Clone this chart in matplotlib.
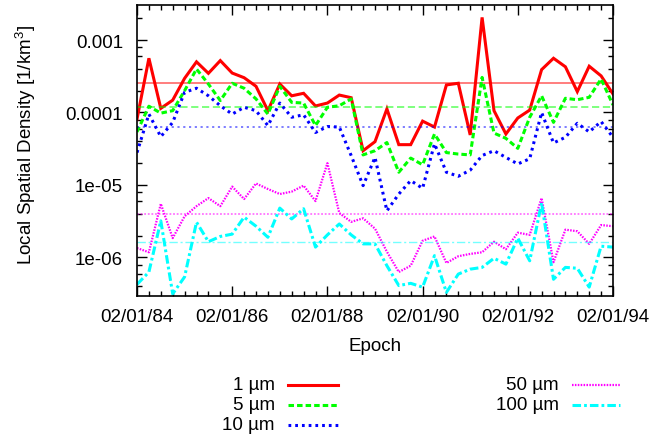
import matplotlib
matplotlib.use("Agg")
import matplotlib.pyplot as plt
from matplotlib.lines import Line2D
from matplotlib.ticker import LogLocator, FixedLocator, MultipleLocator, NullFormatter
import numpy as np

plt.rcParams['font.family'] = ['Liberation Sans', 'DejaVu Sans']
plt.rcParams['mathtext.fontset'] = 'custom'
plt.rcParams['mathtext.rm'] = 'Liberation Sans'
plt.rcParams['mathtext.it'] = 'Liberation Sans'

# ---- data (quarterly epochs, 1984.0 .. 1994.0) ----
epoch_start = 1984.0
epoch_step = 0.25
d1 = [8.1e-5, 5.6e-4, 1.14e-4, 1.48e-4, 2.96e-4, 5.0e-4, 3.47e-4, 5.2e-4, 3.5e-4, 3.02e-4,
      2.3e-4, 1.06e-4, 2.47e-4, 1.7e-4, 1.84e-4, 1.23e-4, 1.35e-4, 1.74e-4, 1.6e-4, 2.97e-5,
      3.96e-5, 1.12e-4, 3.6e-5, 3.6e-5, 7.6e-5, 6.3e-5, 2.4e-4, 2.53e-4, 4.9e-5, 2.05e-3,
      1.06e-4, 5.05e-5, 8.4e-5, 1.08e-4, 3.9e-4, 5.6e-4, 4.27e-4, 1.94e-4, 4.35e-4, 3.2e-4,
      1.8e-4]
d5 = [5.4e-5, 1.22e-4, 9.8e-5, 1.06e-4, 2.0e-4, 3.98e-4, 2.47e-4, 1.46e-4, 2.53e-4, 2.16e-4,
      1.54e-4, 9.5e-5, 2.3e-4, 1.38e-4, 1.35e-4, 6.6e-5, 1.18e-4, 1.24e-4, 1.54e-4, 2.6e-5,
      2.97e-5, 3.85e-5, 1.5e-5, 2.35e-5, 1.9e-5, 5.05e-5, 2.8e-5, 2.67e-5, 2.6e-5, 3.05e-4,
      5.2e-5, 4.4e-5, 3.2e-5, 8.6e-5, 1.7e-4, 7.3e-5, 1.57e-4, 1.5e-4, 1.62e-4, 2.9e-4,
      1.27e-4]
d10 = [2.8e-5, 9.5e-5, 4.64e-5, 7.3e-5, 1.9e-4, 2.16e-4, 1.7e-4, 1.24e-4, 9.5e-5, 1.18e-4,
       1.06e-4, 6.6e-5, 1.35e-4, 8.6e-5, 9.3e-5, 5.3e-5, 6.4e-5, 6.3e-5, 2.54e-5, 9.8e-6,
       2.4e-5, 4.4e-6, 7.5e-6, 1.15e-5, 9.0e-6, 3.7e-5, 1.5e-5, 1.32e-5, 1.6e-5, 2.55e-5,
       2.97e-5, 2.4e-5, 1.95e-5, 2.3e-5, 1.0e-4, 3.8e-5, 4.55e-5, 7.1e-5, 5.4e-5, 7.5e-5,
       4.55e-5]
d50 = [1.35e-6, 1.18e-6, 5.5e-6, 1.85e-6, 3.7e-6, 5.1e-6, 6.6e-6, 5.1e-6, 9.5e-6, 6.4e-6,
       1.05e-5, 8.8e-6, 7.5e-6, 8.1e-6, 9.8e-6, 6.0e-6, 2.0e-5, 4.1e-6, 3.1e-6, 3.47e-6,
       2.5e-6, 1.2e-6, 6.3e-7, 7.7e-7, 1.7e-6, 1.95e-6, 8.4e-7, 1.04e-6, 1.12e-6, 1.18e-6,
       1.65e-6, 1.3e-6, 2.2e-6, 2.05e-6, 6.6e-6, 8.6e-7, 2.42e-6, 2.3e-6, 1.54e-6, 2.8e-6,
       2.7e-6]
d100 = [4.25e-7, 6.3e-7, 3.2e-6, 3.15e-7, 5.4e-7, 3.07e-6, 1.65e-6, 1.95e-6, 2.1e-6, 3.6e-6,
        2.7e-6, 1.9e-6, 4.8e-6, 3.4e-6, 4.7e-6, 1.39e-6, 2.05e-6, 2.9e-6, 2.05e-6, 1.54e-6,
        1.54e-6, 7.7e-7, 4.1e-7, 4.4e-7, 3.9e-7, 1.06e-6, 3.3e-7, 5.9e-7, 6.9e-7, 7.3e-7,
        9.75e-7, 8.1e-7, 1.85e-6, 9.0e-7, 5.65e-6, 5.0e-7, 7.3e-7, 7.1e-7, 3.9e-7, 1.43e-6,
        1.39e-6]
means = [2.53e-4, 1.2e-4, 6.37e-5, 4.02e-6, 1.62e-6]
labels = ['1 µm', '5 µm', '10 µm', '50 µm', '100 µm']
tick_years = [1984, 1986, 1988, 1990, 1992, 1994]
tick_labels = ['02/01/84', '02/01/86', '02/01/88', '02/01/90', '02/01/92', '02/01/94']

series = [d1, d5, d10, d50, d100]
colors = ['#ff0000', '#00ff00', '#0000ff', '#ff00ff', '#00ffff']
styles = [
    dict(lw=2.2, ls='-'),
    dict(lw=2.2, ls=(0, (1.8, 1.0))),
    dict(lw=2.2, ls=(0, (0.9, 1.3))),
    dict(lw=1.6, ls=(0, (0.7, 0.6))),
    dict(lw=2.2, ls=(0, (2.8, 1.0, 0.9, 1.0))),
]
mean_styles = [
    dict(lw=1.3, ls='-'),
    dict(lw=1.3, ls=(0, (4, 2))),
    dict(lw=1.3, ls=(0, (1.2, 2))),
    dict(lw=1.3, ls=(0, (1, 1))),
    dict(lw=1.0, ls=(0, (6, 2, 1.5, 2))),
]

FS = 13.5
W, H = 652, 435
fig = plt.figure(figsize=(W / 100, H / 100), dpi=100)
L, R, T, B = 137, 613, 6, 296.7
ax = fig.add_axes([L / W, 1 - B / H, (R - L) / W, (B - T) / H])

x = epoch_start + epoch_step * np.arange(len(d1))
for s, c, st, m, mst in zip(series, colors, styles, means, mean_styles):
    ax.plot(x, s, color=c, solid_joinstyle='miter', **st)
    ax.plot([x[0], x[-1]], [m, m], color=c, alpha=0.55, **mst)

ax.set_yscale('log')
ax.set_xlim(1984, 1994)
ax.set_ylim(2.97e-7, 3.04e-3)
ax.xaxis.set_major_locator(FixedLocator(tick_years))
ax.set_xticklabels(tick_labels)
ax.xaxis.set_minor_locator(MultipleLocator(0.25))
ax.yaxis.set_minor_locator(LogLocator(base=10, subs=(2, 4, 6, 8), numticks=20))
ax.yaxis.set_minor_formatter(NullFormatter())
ax.set_yticks([1e-6, 1e-5, 1e-4, 1e-3])
ax.set_yticklabels(['1e-06', '1e-05', '0.0001', '0.001'])

ax.tick_params(which='both', direction='in', top=True, right=True, labelsize=FS, width=1)
ax.tick_params(which='major', length=7)
ax.tick_params(which='minor', length=3.5)
ax.tick_params(axis='y', which='major', pad=10)
ax.tick_params(axis='x', which='major', pad=9)
for sp in ax.spines.values():
    sp.set_linewidth(1.2)

fig.text(375 / W, 1 - 347 / H, 'Epoch', ha='center', va='center', fontsize=FS)
fig.text(26 / W, 1 - 145 / H, 'Local Spatial Density [1/km$^3$]', ha='center', va='center',
         rotation=90, fontsize=FS)

# legend (gnuplot style: right-aligned text, then sample)
rows = [386, 406, 426]
pos = [(275, 288, 338, rows[0]), (275, 288, 338, rows[1]), (275, 288, 338, rows[2]),
       (559, 572, 620, rows[0]), (559, 572, 620, rows[1])]
for c, st, lab, (tx, x0, x1, yy) in zip(colors, styles, labels, pos):
    fig.text(tx / W, 1 - yy / H, lab, ha='right', va='center', fontsize=FS)
    fig.add_artist(Line2D([x0 / W, x1 / W], [1 - yy / H, 1 - yy / H], color=c,
                          transform=fig.transFigure, **st))

fig.savefig('out.png', dpi=100)
